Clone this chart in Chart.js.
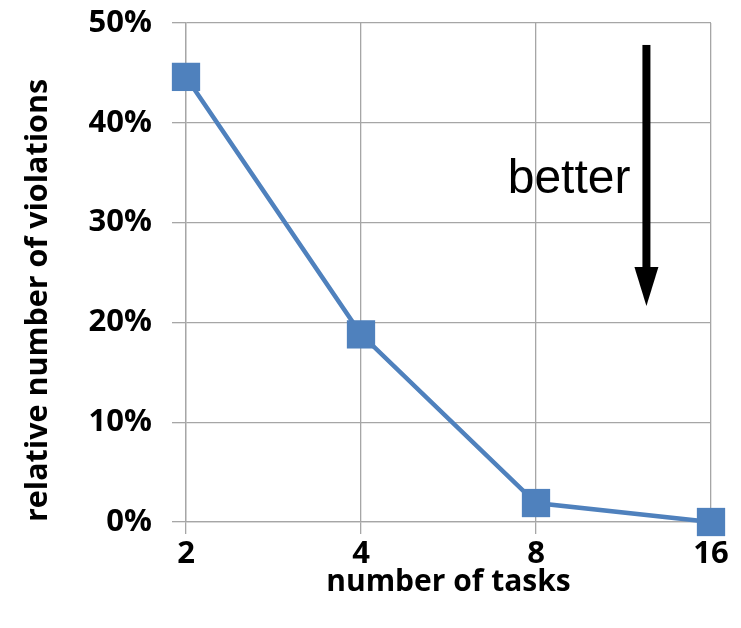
<!DOCTYPE html>
<html>
<head>
<meta charset="utf-8">
<script src="https://cdn.jsdelivr.net/npm/chart.js@4.4.0/dist/chart.umd.min.js"></script>
<style>
  html, body { margin: 0; padding: 0; background: #ffffff; }
  #wrap { width: 741px; height: 628px; }
</style>
</head>
<body>
<div id="wrap"><canvas id="c" width="741" height="628"></canvas></div>
<script>
// Number of tasks vs. relative number of deadline violations
const taskCounts = ['2', '4', '8', '16'];
const violationShare = [44.6, 18.8, 1.9, 0.0];   // percent
const yTicks = [0, 10, 20, 30, 40, 50];

const LINE_BLUE = '#4F81BD';
const GRID_GREY = '#A6A6A6';
const LABEL_FONT = "'Open Sans', 'Noto Sans', 'DejaVu Sans', sans-serif";

// "better" hint with a downward arrow, placed inside the plot area
const betterArrow = {
  id: 'betterArrow',
  afterDraw(chart) {
    const { ctx, chartArea: a } = chart;
    const w = a.right - a.left, h = a.bottom - a.top;
    const x = a.left + w * 0.877;
    const y0 = a.top + h * 0.044;
    const y1 = a.top + h * 0.567;
    const headLen = h * 0.078;
    ctx.save();
    ctx.fillStyle = '#000';
    ctx.fillRect(x - 4, y0, 8, (y1 - headLen) - y0 + 1);
    ctx.beginPath();
    ctx.moveTo(x - 12, y1 - headLen);
    ctx.lineTo(x + 12, y1 - headLen);
    ctx.lineTo(x, y1);
    ctx.closePath();
    ctx.fill();
    ctx.font = "48px 'Liberation Sans', Arial, sans-serif";
    ctx.textAlign = 'right';
    ctx.textBaseline = 'alphabetic';
    ctx.fillText('better', x - 16, a.top + h * 0.341);
    ctx.restore();
  }
};

new Chart(document.getElementById('c'), {
  type: 'line',
  data: {
    labels: taskCounts,
    datasets: [{
      data: violationShare,
      borderColor: LINE_BLUE,
      backgroundColor: LINE_BLUE,
      borderWidth: 4.5,
      pointStyle: 'rect',
      pointRadius: 20,
      pointHoverRadius: 20,
      pointBorderWidth: 0,
      tension: 0,
      clip: false
    }]
  },
  options: {
    responsive: false,
    animation: false,
    devicePixelRatio: 1,
    layout: { padding: { top: 23, right: 30, left: 0, bottom: 0 } },
    plugins: { legend: { display: false }, tooltip: { enabled: false } },
    scales: {
      x: {
        type: 'category',
        offset: false,
        grid: { color: GRID_GREY, lineWidth: 1.3, tickLength: 12, drawTicks: true },
        border: { color: GRID_GREY, width: 1.3 },
        ticks: {
          color: '#000',
          padding: 2,
          maxRotation: 0,
          font: { family: LABEL_FONT, size: 31, weight: 'bold' }
        },
        title: {
          display: true,
          text: 'number of tasks',
          color: '#000',
          padding: { top: 0, bottom: 28 },
          font: { family: LABEL_FONT, size: 30, weight: 'bold' }
        },
        afterFit(scale) { scale.height = 106; }
      },
      y: {
        min: 0,
        max: 50,
        afterBuildTicks(scale) { scale.ticks = yTicks.map(v => ({ value: v })); },
        grid: { color: GRID_GREY, lineWidth: 1.3, tickLength: 14, drawTicks: true },
        border: { color: GRID_GREY, width: 1.3 },
        ticks: {
          color: '#000',
          padding: 20,
          callback: v => v + '%',
          font: { family: LABEL_FONT, size: 31, weight: 'bold' }
        },
        title: {
          display: true,
          text: 'relative number of violations',
          align: 'start',
          color: '#000',
          padding: { top: 20, bottom: 0 },
          font: { family: LABEL_FONT, size: 30.5, weight: 'bold' }
        },
        afterFit(scale) {
          scale.width = 186;
          // let the plot reach the layout padding edge instead of the label overhang
          scale.paddingTop = 0;
          scale.paddingBottom = 0;
        }
      }
    }
  },
  plugins: [betterArrow]
});
</script>
</body>
</html>
